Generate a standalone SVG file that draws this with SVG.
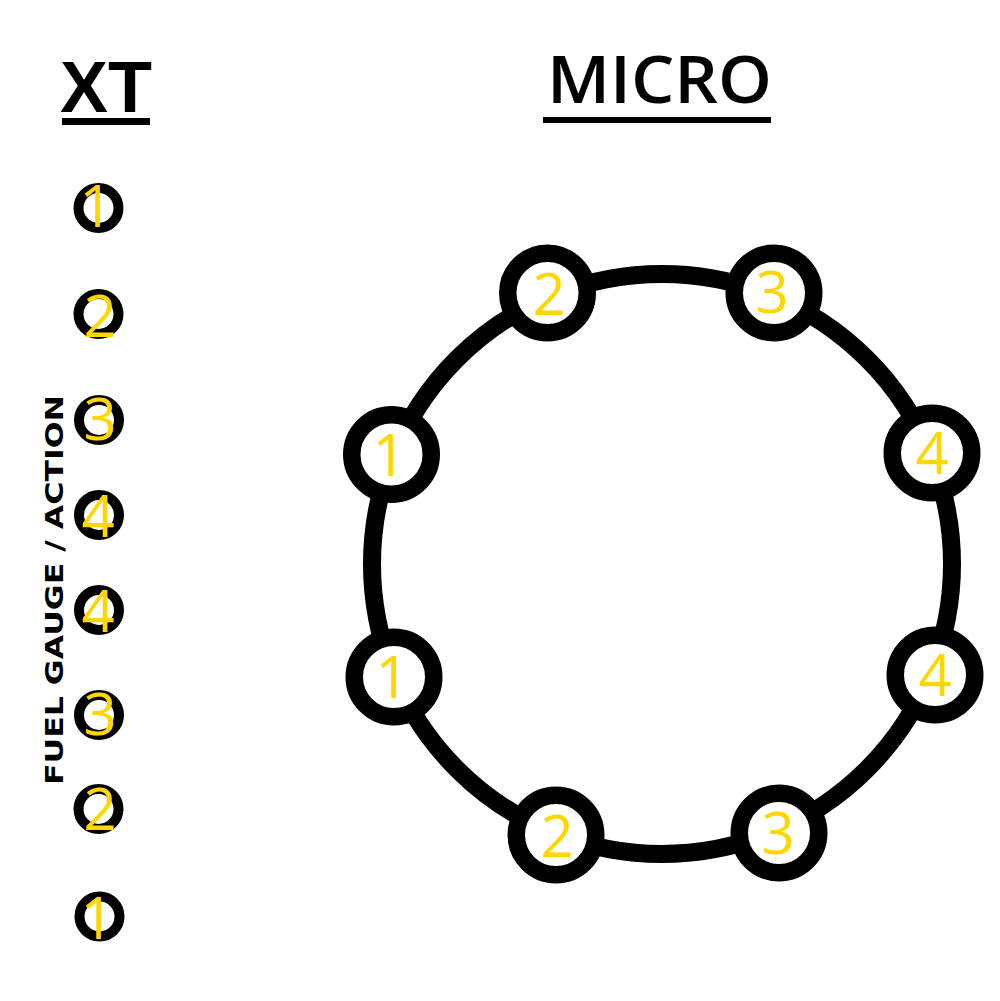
<svg xmlns="http://www.w3.org/2000/svg" width="1000" height="1001" viewBox="0 0 1000 1001">
<style>
.title{font-family:"Open Sans",sans-serif;font-weight:600;fill:#000}
.xt{font-family:"Liberation Sans",Arial,sans-serif;font-weight:bold;fill:#000}
.num{font-family:"Open Sans",sans-serif;font-size:58px;fill:#FFD700;text-anchor:middle}
.pin{fill:#fff;stroke:#000;stroke-width:10}
.node{fill:#fff;stroke:#000;stroke-width:17.5}
.ring{fill:none;stroke:#000;stroke-width:18}
.side{font-family:"DejaVu Sans",sans-serif;font-weight:bold;font-size:25px;fill:#000}
</style>
<rect width="1000" height="1001" fill="#fff"/>
<g id="titles">
<text class="xt" x="106" y="112" font-size="72" text-anchor="middle">XT</text>
<rect x="62" y="118" width="88" height="7" fill="#000"/>
<text class="title" x="547" y="103" font-size="65" textLength="225" lengthAdjust="spacingAndGlyphs">MICRO</text>
<rect x="543" y="117" width="228" height="6" fill="#000"/>
<text class="side" transform="translate(63,785) rotate(-90)" textLength="390" lengthAdjust="spacingAndGlyphs">FUEL GAUGE / ACTION</text>
</g>
<g id="connectors">
<circle class="ring" cx="662" cy="564" r="290"/>
</g>
<g id="xt-pins">
<g id="xt1"><circle class="pin" cx="98.5" cy="208" r="20"/><text class="num" x="96" y="227">1</text></g>
<g id="xt2"><circle class="pin" cx="98.5" cy="314" r="20"/><text class="num" x="100" y="337">2</text></g>
<g id="xt3"><circle class="pin" cx="99" cy="420" r="20"/><text class="num" x="100" y="440">3</text></g>
<g id="xt4"><circle class="pin" cx="99" cy="515" r="20"/><text class="num" x="98" y="537">4</text></g>
<g id="xt5"><circle class="pin" cx="99" cy="610" r="20"/><text class="num" x="98" y="632">4</text></g>
<g id="xt6"><circle class="pin" cx="99" cy="715" r="20"/><text class="num" x="100" y="735">3</text></g>
<g id="xt7"><circle class="pin" cx="98.5" cy="809" r="20"/><text class="num" x="100" y="830">2</text></g>
<g id="xt8"><circle class="pin" cx="99.5" cy="916.5" r="20"/><text class="num" x="97" y="939">1</text></g>
</g>
<g id="micro-pins">
<g id="m1a"><circle class="node" cx="391.5" cy="454.5" r="39.75"/><text class="num" x="389" y="476">1</text></g>
<g id="m2a"><circle class="node" cx="547.5" cy="293" r="39.75"/><text class="num" x="549" y="315">2</text></g>
<g id="m3a"><circle class="node" cx="774" cy="293" r="39.75"/><text class="num" x="772" y="313">3</text></g>
<g id="m4a"><circle class="node" cx="932" cy="453" r="39.75"/><text class="num" x="932" y="474">4</text></g>
<g id="m4b"><circle class="node" cx="935" cy="675" r="39.75"/><text class="num" x="935" y="696">4</text></g>
<g id="m3b"><circle class="node" cx="779" cy="833" r="39.75"/><text class="num" x="778" y="854">3</text></g>
<g id="m2b"><circle class="node" cx="556" cy="835" r="39.75"/><text class="num" x="557" y="857">2</text></g>
<g id="m1b"><circle class="node" cx="394" cy="677" r="39.75"/><text class="num" x="392" y="698">1</text></g>
</g>
</svg>
